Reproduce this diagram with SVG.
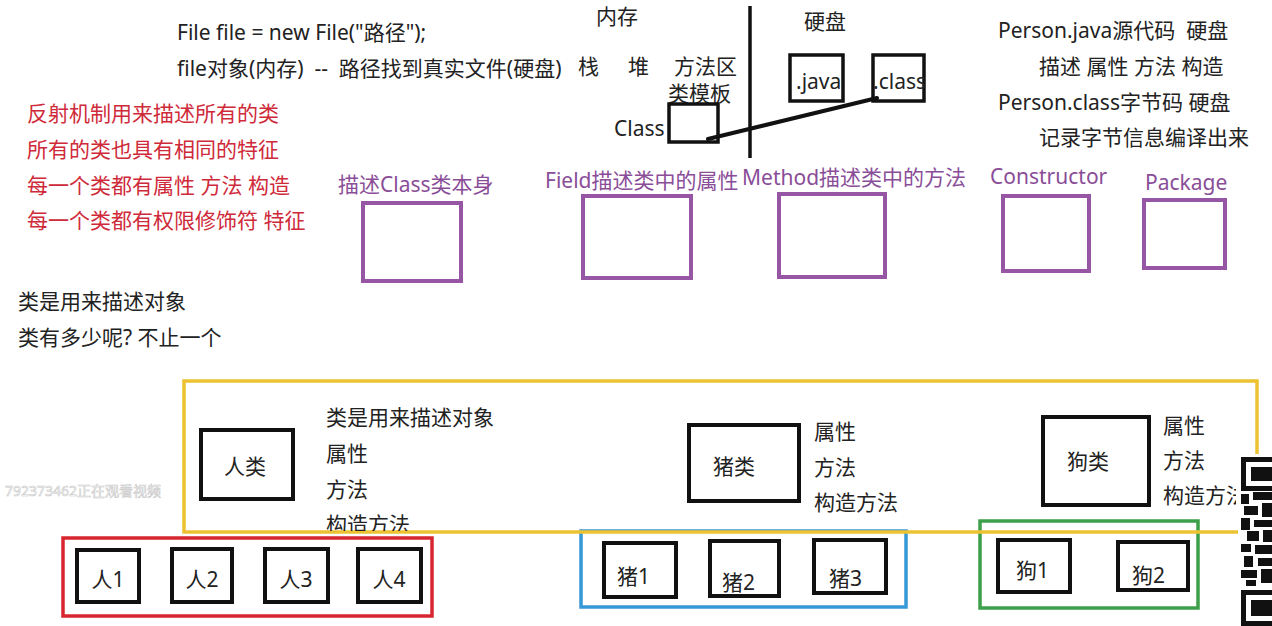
<svg xmlns="http://www.w3.org/2000/svg" width="1272" height="626" viewBox="0 0 1272 626">
<defs>
<style>
text{font-family:"Noto Sans","Noto Sans CJK SC",sans-serif;font-size:21px;fill:#222;white-space:pre}
.red{fill:#cf2a3a}
.pur{fill:#8a4d98}
.pbox{fill:none;stroke:#9656a3;stroke-width:4}
.bbox{fill:#fff;stroke:#111;stroke-width:4}
.mid{text-anchor:middle}
</style>
<clipPath id="clipY"><rect x="0" y="0" width="1272" height="531"/></clipPath>
<clipPath id="clipQ"><rect x="0" y="0" width="1236" height="626"/></clipPath>
</defs>
<rect width="1272" height="626" fill="#fff"/>

<g id="top-notes">
<text x="177" y="40">File file = new File("路径");</text>
<text x="177" y="76" xml:space="preserve">file对象(内存)  --  路径找到真实文件(硬盘)</text>
</g>

<g id="memory">
<text x="596" y="24">内存</text>
<text x="578" y="74">栈</text>
<text x="628" y="74">堆</text>
<text x="674" y="74">方法区</text>
<text x="668" y="101">类模板</text>
<text x="614" y="136">Class</text>
<rect x="669" y="104" width="49" height="38" fill="none" stroke="#111" stroke-width="3.5"/>
</g>

<g id="divider">
<line x1="750" y1="6" x2="750" y2="158" stroke="#111" stroke-width="3.5"/>
</g>

<g id="disk">
<text x="804" y="29">硬盘</text>
<rect x="790" y="55" width="53" height="46" fill="none" stroke="#111" stroke-width="3.5"/>
<text x="796" y="89">.java</text>
<rect x="873" y="55" width="51" height="46" fill="none" stroke="#111" stroke-width="3.5"/>
<text x="873" y="89">.class</text>
</g>

<g id="connectors">
<line x1="708" y1="139" x2="877" y2="98" stroke="#111" stroke-width="4" stroke-linecap="round"/>
</g>

<g id="right-notes">
<text x="998" y="38" xml:space="preserve">Person.java源代码  硬盘</text>
<text x="1039" y="74">描述 属性 方法 构造</text>
<text x="998" y="110">Person.class字节码 硬盘</text>
<text x="1039" y="145">记录字节信息编译出来</text>
</g>

<g id="red-notes">
<text class="red" x="27" y="121">反射机制用来描述所有的类</text>
<text class="red" x="27" y="157">所有的类也具有相同的特征</text>
<text class="red" x="27" y="193">每一个类都有属性 方法 构造</text>
<text class="red" x="27" y="228">每一个类都有权限修饰符 特征</text>
</g>

<g id="left-notes">
<text x="18" y="309">类是用来描述对象</text>
<text x="18" y="345">类有多少呢? 不止一个</text>
</g>

<g id="class-node">
<text class="pur" x="338" y="192">描述Class类本身</text>
<rect class="pbox" x="363" y="203" width="98" height="78"/>
</g>
<g id="field-node">
<text class="pur" x="545" y="188">Field描述类中的属性</text>
<rect class="pbox" x="583" y="196" width="108" height="82"/>
</g>
<g id="method-node">
<text class="pur" x="742" y="185">Method描述类中的方法</text>
<rect class="pbox" x="779" y="194" width="106" height="83"/>
</g>
<g id="constructor-node">
<text class="pur" x="990" y="184">Constructor</text>
<rect class="pbox" x="1003" y="196" width="86" height="75"/>
</g>
<g id="package-node">
<text class="pur" x="1145" y="190">Package</text>
<rect class="pbox" x="1144" y="200" width="81" height="68"/>
</g>

<g id="group-boxes">
<rect x="63" y="538" width="369" height="78" fill="none" stroke="#d8262f" stroke-width="3.5"/>
<rect x="581" y="531" width="325" height="76" fill="none" stroke="#3698d6" stroke-width="3.5"/>
<rect x="980" y="521" width="218" height="87" fill="none" stroke="#3c9f4a" stroke-width="3.5"/>
</g>

<g id="people">
<rect class="bbox" x="77" y="550" width="62" height="52"/><text class="mid" x="108" y="587">人1</text>
<rect class="bbox" x="172" y="549" width="60" height="53"/><text class="mid" x="202" y="587">人2</text>
<rect class="bbox" x="265" y="549" width="63" height="53"/><text class="mid" x="296" y="587">人3</text>
<rect class="bbox" x="358" y="549" width="63" height="53"/><text class="mid" x="389" y="587">人4</text>
</g>

<g id="pigs">
<rect class="bbox" x="604" y="543" width="72" height="54"/><text x="617" y="584">猪1</text>
<rect class="bbox" x="710" y="541" width="69" height="55"/><text x="722" y="590">猪2</text>
<rect class="bbox" x="814" y="540" width="72" height="53"/><text x="829" y="586">猪3</text>
</g>

<g id="dogs">
<rect class="bbox" x="998" y="540" width="72" height="52"/><text x="1016" y="578">狗1</text>
<rect class="bbox" x="1118" y="542" width="70" height="48"/><text x="1132" y="583">狗2</text>
</g>

<g id="classes-frame">
<rect x="184" y="381" width="1073" height="151" fill="none" stroke="#ecc232" stroke-width="3.5"/>
</g>

<g id="person-class">
<rect class="bbox" x="201" y="430" width="92" height="69"/>
<text x="224" y="474">人类</text>
<text x="326" y="425">类是用来描述对象</text>
<text x="326" y="461">属性</text>
<text x="326" y="497">方法</text>
<text x="326" y="532" clip-path="url(#clipY)">构造方法</text>
</g>

<g id="pig-class">
<rect class="bbox" x="689" y="425" width="110" height="76"/>
<text x="713" y="474">猪类</text>
<text x="814" y="439">属性</text>
<text x="814" y="475">方法</text>
<text x="814" y="510">构造方法</text>
</g>

<g id="dog-class">
<rect class="bbox" x="1043" y="417" width="106" height="88"/>
<text x="1067" y="469">狗类</text>
<g clip-path="url(#clipQ)">
<text x="1163" y="433">属性</text>
<text x="1163" y="468">方法</text>
<text x="1163" y="503">构造方法</text>
</g>
</g>

<g id="viewer-note">
<text x="5" y="496" style="font-size:14px;fill:#fff;stroke:#c8c8c8;stroke-width:0.6">792373462正在观看视频</text>
</g>

<g id="qr">
<rect x="1238" y="454" width="34" height="172" fill="#fff"/>
<rect x="1241" y="457" width="31" height="34" fill="#111"/>
<rect x="1246" y="462" width="26" height="24" fill="#fff"/>
<rect x="1251" y="467" width="21" height="14" fill="#111"/>
<rect x="1241" y="494" width="8" height="10" fill="#111"/>
<rect x="1253" y="492" width="19" height="8" fill="#111"/>
<rect x="1244" y="506" width="14" height="9" fill="#111"/>
<rect x="1262" y="503" width="10" height="14" fill="#111"/>
<rect x="1241" y="518" width="9" height="12" fill="#111"/>
<rect x="1254" y="520" width="18" height="7" fill="#111"/>
<rect x="1247" y="531" width="12" height="10" fill="#111"/>
<rect x="1263" y="530" width="9" height="12" fill="#111"/>
<rect x="1241" y="544" width="10" height="8" fill="#111"/>
<rect x="1255" y="545" width="17" height="9" fill="#111"/>
<rect x="1244" y="556" width="9" height="11" fill="#111"/>
<rect x="1258" y="558" width="14" height="8" fill="#111"/>
<rect x="1241" y="570" width="16" height="8" fill="#111"/>
<rect x="1261" y="569" width="11" height="14" fill="#111"/>
<rect x="1246" y="580" width="10" height="6" fill="#111"/>
<rect x="1241" y="590" width="31" height="36" fill="#111"/>
<rect x="1246" y="595" width="26" height="26" fill="#fff"/>
<rect x="1251" y="600" width="21" height="16" fill="#111"/>
</g>
</svg>
